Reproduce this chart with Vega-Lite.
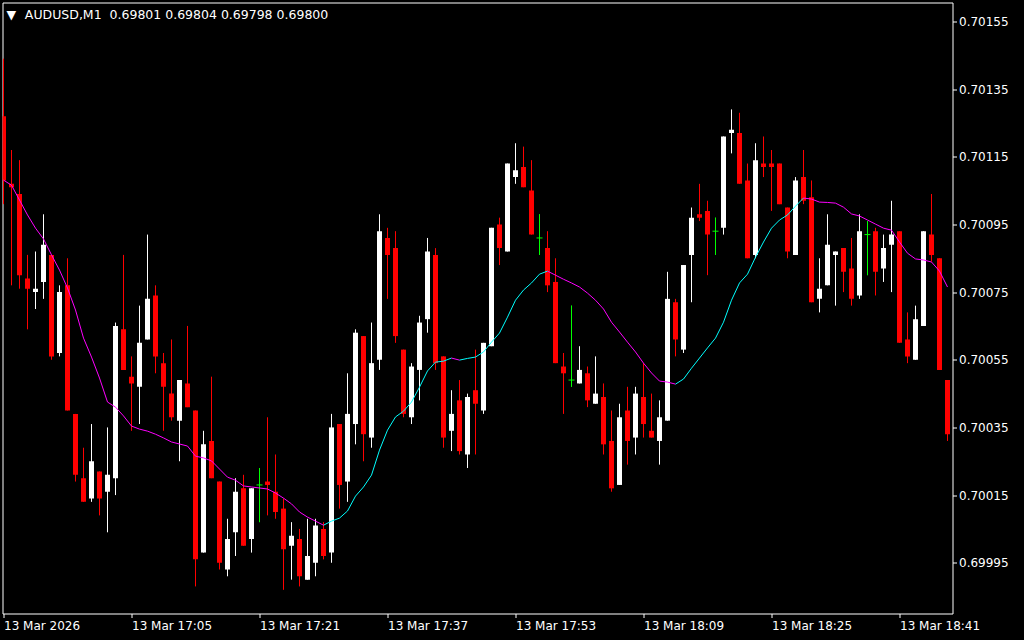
{
"$schema": "https://vega.github.io/schema/vega-lite/v6.json",
"width": 950, "height": 611,
"autosize": {"type": "none"},
"padding": {"left": 2.5, "top": 2.5, "right": 71.5, "bottom": 26.5},
"background": "#000000",
"config": {
  "view": {"stroke": "#ffffff", "strokeWidth": 1},
  "axis": {"domain": false, "grid": false, "tickColor": "#ffffff", "tickSize": 4, "labelColor": "#ffffff", "labelFont": "DejaVu Sans", "labelFontSize": 12}
},
"title": {"text": "▼\u2002\u2009AUDUSD,M1\u00a0\u00a00.69801 0.69804 0.69798 0.69800", "anchor": "start", "frame": "group", "color": "#ffffff", "font": "DejaVu Sans", "fontSize": 12.5, "fontWeight": "normal", "offset": -19, "dx": 4},
"data": {"values": [
{"t":"2026-03-13T16:49","o":0.70127,"h":0.70144,"l":0.70101,"c":0.70108,"ma":0.701081},
{"t":"2026-03-13T16:50","o":0.70107,"h":0.70117,"l":0.70077,"c":0.70106,"ma":0.701066},
{"t":"2026-03-13T16:51","o":0.70104,"h":0.70114,"l":0.70076,"c":0.70080,"ma":0.701022},
{"t":"2026-03-13T16:52","o":0.70079,"h":0.70086,"l":0.70064,"c":0.70076,"ma":0.700978},
{"t":"2026-03-13T16:53","o":0.70075,"h":0.70087,"l":0.70070,"c":0.70076,"ma":0.700939},
{"t":"2026-03-13T16:54","o":0.70078,"h":0.70098,"l":0.70073,"c":0.70089,"ma":0.700907},
{"t":"2026-03-13T16:55","o":0.70086,"h":0.70086,"l":0.70055,"c":0.70056,"ma":0.700860},
{"t":"2026-03-13T16:56","o":0.70057,"h":0.70077,"l":0.70056,"c":0.70075,"ma":0.700815},
{"t":"2026-03-13T16:57","o":0.70077,"h":0.70085,"l":0.70040,"c":0.70040,"ma":0.700762},
{"t":"2026-03-13T16:58","o":0.70039,"h":0.70039,"l":0.70019,"c":0.70021,"ma":0.700697},
{"t":"2026-03-13T16:59","o":0.70020,"h":0.70029,"l":0.70013,"c":0.70013,"ma":0.700614},
{"t":"2026-03-13T17:00","o":0.70014,"h":0.70036,"l":0.70013,"c":0.70025,"ma":0.700558},
{"t":"2026-03-13T17:01","o":0.70022,"h":0.70022,"l":0.70009,"c":0.70014,"ma":0.700496},
{"t":"2026-03-13T17:02","o":0.70016,"h":0.70035,"l":0.70004,"c":0.70021,"ma":0.700425},
{"t":"2026-03-13T17:03","o":0.70020,"h":0.70066,"l":0.70015,"c":0.70065,"ma":0.700410},
{"t":"2026-03-13T17:04","o":0.70064,"h":0.70086,"l":0.70052,"c":0.70052,"ma":0.700384},
{"t":"2026-03-13T17:05","o":0.70050,"h":0.70056,"l":0.70034,"c":0.70048,"ma":0.700354},
{"t":"2026-03-13T17:06","o":0.70047,"h":0.70071,"l":0.70036,"c":0.70060,"ma":0.700345},
{"t":"2026-03-13T17:07","o":0.70061,"h":0.70092,"l":0.70061,"c":0.70073,"ma":0.700339},
{"t":"2026-03-13T17:08","o":0.70074,"h":0.70077,"l":0.70051,"c":0.70056,"ma":0.700330},
{"t":"2026-03-13T17:09","o":0.70054,"h":0.70057,"l":0.70034,"c":0.70047,"ma":0.700319},
{"t":"2026-03-13T17:10","o":0.70045,"h":0.70061,"l":0.70037,"c":0.70038,"ma":0.700307},
{"t":"2026-03-13T17:11","o":0.70037,"h":0.70049,"l":0.70025,"c":0.70049,"ma":0.700301},
{"t":"2026-03-13T17:12","o":0.70048,"h":0.70065,"l":0.70041,"c":0.70041,"ma":0.700295},
{"t":"2026-03-13T17:13","o":0.70040,"h":0.70040,"l":0.69988,"c":0.69996,"ma":0.700265},
{"t":"2026-03-13T17:14","o":0.69998,"h":0.70034,"l":0.69998,"c":0.70030,"ma":0.700260},
{"t":"2026-03-13T17:15","o":0.70031,"h":0.70050,"l":0.70020,"c":0.70020,"ma":0.700251},
{"t":"2026-03-13T17:16","o":0.70019,"h":0.70019,"l":0.69993,"c":0.69995,"ma":0.700227},
{"t":"2026-03-13T17:17","o":0.69993,"h":0.70008,"l":0.69991,"c":0.70002,"ma":0.700203},
{"t":"2026-03-13T17:18","o":0.70004,"h":0.70020,"l":0.69997,"c":0.70016,"ma":0.700194},
{"t":"2026-03-13T17:19","o":0.70017,"h":0.70021,"l":0.70000,"c":0.70000,"ma":0.700177},
{"t":"2026-03-13T17:20","o":0.70002,"h":0.70017,"l":0.69998,"c":0.70017,"ma":0.700174},
{"t":"2026-03-13T17:21","o":0.70018,"h":0.70023,"l":0.70007,"c":0.70018,"ma":0.700171},
{"t":"2026-03-13T17:22","o":0.70019,"h":0.70038,"l":0.70009,"c":0.70018,"ma":0.700168},
{"t":"2026-03-13T17:23","o":0.70016,"h":0.70027,"l":0.70008,"c":0.70010,"ma":0.700156},
{"t":"2026-03-13T17:24","o":0.70011,"h":0.70014,"l":0.69987,"c":0.69999,"ma":0.700141},
{"t":"2026-03-13T17:25","o":0.70000,"h":0.70007,"l":0.69990,"c":0.70003,"ma":0.700124},
{"t":"2026-03-13T17:26","o":0.70002,"h":0.70005,"l":0.69988,"c":0.69991,"ma":0.700100},
{"t":"2026-03-13T17:27","o":0.69990,"h":0.70008,"l":0.69990,"c":0.69997,"ma":0.700085},
{"t":"2026-03-13T17:28","o":0.69995,"h":0.70008,"l":0.69991,"c":0.70006,"ma":0.700073},
{"t":"2026-03-13T17:29","o":0.70005,"h":0.70007,"l":0.69996,"c":0.69997,"ma":0.700061},
{"t":"2026-03-13T17:30","o":0.69998,"h":0.70039,"l":0.69995,"c":0.70035,"ma":0.700073},
{"t":"2026-03-13T17:31","o":0.70036,"h":0.70036,"l":0.70011,"c":0.70018,"ma":0.700082},
{"t":"2026-03-13T17:32","o":0.70019,"h":0.70051,"l":0.70013,"c":0.70039,"ma":0.700103},
{"t":"2026-03-13T17:33","o":0.70036,"h":0.70064,"l":0.70030,"c":0.70063,"ma":0.700147},
{"t":"2026-03-13T17:34","o":0.70062,"h":0.70062,"l":0.70025,"c":0.70033,"ma":0.700174},
{"t":"2026-03-13T17:35","o":0.70032,"h":0.70066,"l":0.70029,"c":0.70054,"ma":0.700209},
{"t":"2026-03-13T17:36","o":0.70055,"h":0.70098,"l":0.70052,"c":0.70093,"ma":0.700283},
{"t":"2026-03-13T17:37","o":0.70091,"h":0.70094,"l":0.70073,"c":0.70086,"ma":0.700342},
{"t":"2026-03-13T17:38","o":0.70088,"h":0.70093,"l":0.70060,"c":0.70062,"ma":0.700381},
{"t":"2026-03-13T17:39","o":0.70058,"h":0.70058,"l":0.70038,"c":0.70039,"ma":0.700398},
{"t":"2026-03-13T17:40","o":0.70038,"h":0.70054,"l":0.70036,"c":0.70053,"ma":0.700425},
{"t":"2026-03-13T17:41","o":0.70052,"h":0.70068,"l":0.70043,"c":0.70066,"ma":0.700469},
{"t":"2026-03-13T17:42","o":0.70067,"h":0.70091,"l":0.70063,"c":0.70087,"ma":0.700517},
{"t":"2026-03-13T17:43","o":0.70086,"h":0.70088,"l":0.70052,"c":0.70054,"ma":0.700543},
{"t":"2026-03-13T17:44","o":0.70056,"h":0.70056,"l":0.70029,"c":0.70032,"ma":0.700546},
{"t":"2026-03-13T17:45","o":0.70034,"h":0.70046,"l":0.70028,"c":0.70039,"ma":0.700555},
{"t":"2026-03-13T17:46","o":0.70043,"h":0.70049,"l":0.70027,"c":0.70028,"ma":0.700549},
{"t":"2026-03-13T17:47","o":0.70027,"h":0.70045,"l":0.70023,"c":0.70044,"ma":0.700554},
{"t":"2026-03-13T17:48","o":0.70046,"h":0.70058,"l":0.70027,"c":0.70042,"ma":0.700558},
{"t":"2026-03-13T17:49","o":0.70040,"h":0.70060,"l":0.70039,"c":0.70060,"ma":0.700573},
{"t":"2026-03-13T17:50","o":0.70059,"h":0.70094,"l":0.70059,"c":0.70094,"ma":0.700602},
{"t":"2026-03-13T17:51","o":0.70095,"h":0.70097,"l":0.70083,"c":0.70088,"ma":0.700629},
{"t":"2026-03-13T17:52","o":0.70087,"h":0.70113,"l":0.70087,"c":0.70113,"ma":0.700676},
{"t":"2026-03-13T17:53","o":0.70109,"h":0.70119,"l":0.70107,"c":0.70111,"ma":0.700726},
{"t":"2026-03-13T17:54","o":0.70112,"h":0.70118,"l":0.70106,"c":0.70106,"ma":0.700756},
{"t":"2026-03-13T17:55","o":0.70105,"h":0.70114,"l":0.70092,"c":0.70092,"ma":0.700777},
{"t":"2026-03-13T17:56","o":0.70091,"h":0.70098,"l":0.70086,"c":0.70091,"ma":0.700803},
{"t":"2026-03-13T17:57","o":0.70088,"h":0.70093,"l":0.70075,"c":0.70077,"ma":0.700812},
{"t":"2026-03-13T17:58","o":0.70078,"h":0.70085,"l":0.70054,"c":0.70054,"ma":0.700800},
{"t":"2026-03-13T17:59","o":0.70053,"h":0.70057,"l":0.70039,"c":0.70051,"ma":0.700788},
{"t":"2026-03-13T18:00","o":0.70049,"h":0.70071,"l":0.70047,"c":0.70049,"ma":0.700777},
{"t":"2026-03-13T18:01","o":0.70048,"h":0.70059,"l":0.70048,"c":0.70052,"ma":0.700765},
{"t":"2026-03-13T18:02","o":0.70051,"h":0.70053,"l":0.70041,"c":0.70043,"ma":0.700747},
{"t":"2026-03-13T18:03","o":0.70042,"h":0.70056,"l":0.70042,"c":0.70045,"ma":0.700726},
{"t":"2026-03-13T18:04","o":0.70044,"h":0.70048,"l":0.70027,"c":0.70030,"ma":0.700700},
{"t":"2026-03-13T18:05","o":0.70031,"h":0.70040,"l":0.70016,"c":0.70017,"ma":0.700661},
{"t":"2026-03-13T18:06","o":0.70018,"h":0.70042,"l":0.70018,"c":0.70038,"ma":0.700632},
{"t":"2026-03-13T18:07","o":0.70040,"h":0.70047,"l":0.70024,"c":0.70031,"ma":0.700602},
{"t":"2026-03-13T18:08","o":0.70032,"h":0.70047,"l":0.70027,"c":0.70045,"ma":0.700573},
{"t":"2026-03-13T18:09","o":0.70044,"h":0.70054,"l":0.70032,"c":0.70036,"ma":0.700540},
{"t":"2026-03-13T18:10","o":0.70034,"h":0.70045,"l":0.70032,"c":0.70032,"ma":0.700511},
{"t":"2026-03-13T18:11","o":0.70031,"h":0.70043,"l":0.70024,"c":0.70038,"ma":0.700487},
{"t":"2026-03-13T18:12","o":0.70037,"h":0.70081,"l":0.70037,"c":0.70073,"ma":0.700484},
{"t":"2026-03-13T18:13","o":0.70072,"h":0.70073,"l":0.70056,"c":0.70061,"ma":0.700478},
{"t":"2026-03-13T18:14","o":0.70058,"h":0.70083,"l":0.70057,"c":0.70083,"ma":0.700493},
{"t":"2026-03-13T18:15","o":0.70086,"h":0.70100,"l":0.70072,"c":0.70097,"ma":0.700525},
{"t":"2026-03-13T18:16","o":0.70098,"h":0.70107,"l":0.70096,"c":0.70097,"ma":0.700555},
{"t":"2026-03-13T18:17","o":0.70099,"h":0.70102,"l":0.70080,"c":0.70092,"ma":0.700585},
{"t":"2026-03-13T18:18","o":0.70093,"h":0.70097,"l":0.70086,"c":0.70093,"ma":0.700614},
{"t":"2026-03-13T18:19","o":0.70094,"h":0.70121,"l":0.70092,"c":0.70121,"ma":0.700661},
{"t":"2026-03-13T18:20","o":0.70122,"h":0.70129,"l":0.70116,"c":0.70123,"ma":0.700726},
{"t":"2026-03-13T18:21","o":0.70122,"h":0.70128,"l":0.70107,"c":0.70107,"ma":0.700777},
{"t":"2026-03-13T18:22","o":0.70108,"h":0.70113,"l":0.70085,"c":0.70085,"ma":0.700803},
{"t":"2026-03-13T18:23","o":0.70086,"h":0.70119,"l":0.70085,"c":0.70114,"ma":0.700853},
{"t":"2026-03-13T18:24","o":0.70113,"h":0.70121,"l":0.70109,"c":0.70112,"ma":0.700898},
{"t":"2026-03-13T18:25","o":0.70113,"h":0.70117,"l":0.70099,"c":0.70112,"ma":0.700939},
{"t":"2026-03-13T18:26","o":0.70113,"h":0.70113,"l":0.70101,"c":0.70101,"ma":0.700963},
{"t":"2026-03-13T18:27","o":0.70100,"h":0.70100,"l":0.70085,"c":0.70087,"ma":0.700978},
{"t":"2026-03-13T18:28","o":0.70086,"h":0.70109,"l":0.70086,"c":0.70108,"ma":0.701004},
{"t":"2026-03-13T18:29","o":0.70109,"h":0.70117,"l":0.70101,"c":0.70102,"ma":0.701028},
{"t":"2026-03-13T18:30","o":0.70103,"h":0.70108,"l":0.70072,"c":0.70072,"ma":0.701025},
{"t":"2026-03-13T18:31","o":0.70073,"h":0.70085,"l":0.70069,"c":0.70076,"ma":0.701016},
{"t":"2026-03-13T18:32","o":0.70077,"h":0.70098,"l":0.70077,"c":0.70089,"ma":0.701015},
{"t":"2026-03-13T18:33","o":0.70086,"h":0.70087,"l":0.70071,"c":0.70087,"ma":0.701013},
{"t":"2026-03-13T18:34","o":0.70088,"h":0.70088,"l":0.70075,"c":0.70081,"ma":0.701001},
{"t":"2026-03-13T18:35","o":0.70082,"h":0.70091,"l":0.70071,"c":0.70073,"ma":0.700981},
{"t":"2026-03-13T18:36","o":0.70074,"h":0.70098,"l":0.70073,"c":0.70093,"ma":0.700975},
{"t":"2026-03-13T18:37","o":0.70092,"h":0.70096,"l":0.70080,"c":0.70092,"ma":0.700963},
{"t":"2026-03-13T18:38","o":0.70093,"h":0.70094,"l":0.70074,"c":0.70081,"ma":0.700951},
{"t":"2026-03-13T18:39","o":0.70082,"h":0.70092,"l":0.70078,"c":0.70088,"ma":0.700939},
{"t":"2026-03-13T18:40","o":0.70089,"h":0.70102,"l":0.70075,"c":0.70092,"ma":0.700933},
{"t":"2026-03-13T18:41","o":0.70093,"h":0.70093,"l":0.70060,"c":0.70060,"ma":0.700898},
{"t":"2026-03-13T18:42","o":0.70061,"h":0.70069,"l":0.70054,"c":0.70056,"ma":0.700865},
{"t":"2026-03-13T18:43","o":0.70055,"h":0.70071,"l":0.70055,"c":0.70067,"ma":0.700848},
{"t":"2026-03-13T18:44","o":0.70065,"h":0.70093,"l":0.70065,"c":0.70093,"ma":0.700845},
{"t":"2026-03-13T18:45","o":0.70092,"h":0.70104,"l":0.70084,"c":0.70086,"ma":0.700839},
{"t":"2026-03-13T18:46","o":0.70085,"h":0.70085,"l":0.70052,"c":0.70052,"ma":0.700812},
{"t":"2026-03-13T18:47","o":0.70049,"h":0.70049,"l":0.70031,"c":0.70033,"ma":0.700765}
]},
"encoding": {
  "x": {"field": "t", "type": "temporal",
    "scale": {"nice": false, "padding": 0, "domain": [{"year": 2026, "month": "Mar", "date": 13, "hours": 16, "minutes": 48, "seconds": 52, "milliseconds": 500}, {"year": 2026, "month": "Mar", "date": 13, "hours": 18, "minutes": 47, "seconds": 37, "milliseconds": 500}]},
    "axis": {"title": null, "values": [
      {"year": 2026, "month": "Mar", "date": 13, "hours": 16, "minutes": 49},
      {"year": 2026, "month": "Mar", "date": 13, "hours": 17, "minutes": 5},
      {"year": 2026, "month": "Mar", "date": 13, "hours": 17, "minutes": 21},
      {"year": 2026, "month": "Mar", "date": 13, "hours": 17, "minutes": 37},
      {"year": 2026, "month": "Mar", "date": 13, "hours": 17, "minutes": 53},
      {"year": 2026, "month": "Mar", "date": 13, "hours": 18, "minutes": 9},
      {"year": 2026, "month": "Mar", "date": 13, "hours": 18, "minutes": 25},
      {"year": 2026, "month": "Mar", "date": 13, "hours": 18, "minutes": 41}],
      "labelExpr": "hours(datum.value) == 16 && minutes(datum.value) == 49 ? '13 Mar 2026' : timeFormat(datum.value, '%d %b %H:%M')",
      "labelAlign": "left", "labelPadding": 3, "labelFlush": false, "labelOverlap": false}}
},
"layer": [
  {"mark": {"type": "rule", "strokeWidth": 1, "clip": true},
   "encoding": {
     "y": {"field": "l", "type": "quantitative", "scale": {"domain": [0.6998, 0.701606], "zero": false, "nice": false},
       "axis": {"title": null, "orient": "right", "values": [0.69995, 0.70015, 0.70035, 0.70055, 0.70075, 0.70095, 0.70115, 0.70135, 0.70155], "format": ".5f", "labelPadding": 2}},
     "y2": {"field": "h"},
     "color": {"condition": [{"test": "datum.c > datum.o", "value": "#ffffff"}, {"test": "datum.c < datum.o", "value": "#ff0000"}], "value": "#00ff00"}}},
  {"mark": {"type": "bar", "size": 5, "clip": true},
   "encoding": {
     "y": {"field": "o", "type": "quantitative", "scale": {"domain": [0.6998, 0.701606], "zero": false, "nice": false}, "axis": {"title": null}},
     "y2": {"field": "c"},
     "color": {"condition": [{"test": "datum.c > datum.o", "value": "#ffffff"}, {"test": "datum.c < datum.o", "value": "#ff0000"}], "value": "#00ff00"}}},
  {"transform": [{"filter": "datum.o == datum.c"}],
   "mark": {"type": "rule", "strokeWidth": 1, "color": "#00ff00", "clip": true},
   "encoding": {
     "y": {"field": "l", "type": "quantitative", "scale": {"domain": [0.6998, 0.701606], "zero": false, "nice": false}, "axis": {"title": null}},
     "y2": {"field": "h"}}},
  {"transform": [{"filter": "datum.o == datum.c"}],
   "mark": {"type": "point", "shape": "M-1,0H1", "size": 36, "filled": false, "strokeWidth": 1, "opacity": 1, "clip": true},
   "encoding": {
     "y": {"field": "c", "type": "quantitative", "scale": {"domain": [0.6998, 0.701606], "zero": false, "nice": false}, "axis": {"title": null}},
     "color": {"value": "#00ff00"}}},
  {"transform": [{"window": [{"op": "lead", "field": "ma", "as": "ma2"}, {"op": "lead", "field": "t", "as": "t2"}], "sort": [{"field": "t"}]}, {"filter": "datum.ma2 != null"}],
   "mark": {"type": "rule", "strokeWidth": 1, "clip": true},
   "encoding": {
     "x2": {"field": "t2"},
     "y": {"field": "ma", "type": "quantitative", "scale": {"domain": [0.6998, 0.701606], "zero": false, "nice": false}, "axis": {"title": null}},
     "y2": {"field": "ma2"},
     "color": {"condition": {"test": "datum.ma2 > datum.ma", "value": "#00ffff"}, "value": "#ff00ff"}}}
]
}
